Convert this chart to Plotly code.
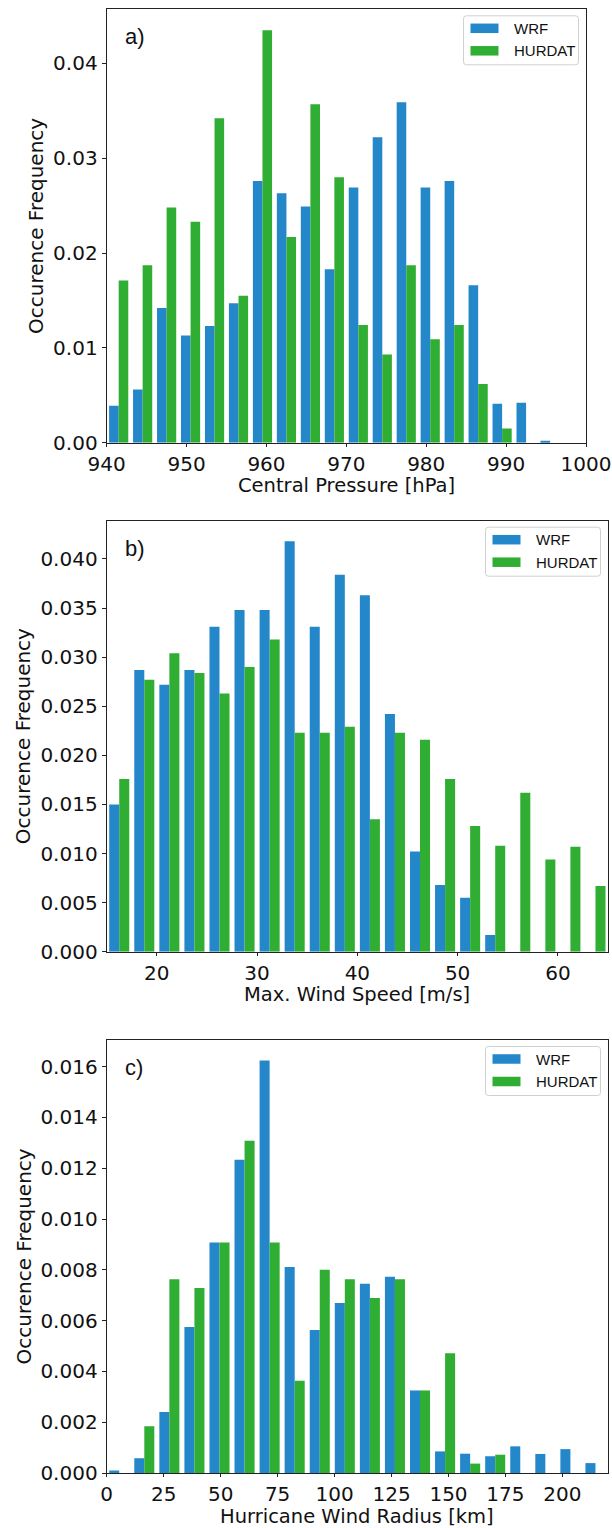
import plotly.graph_objects as go

W, H = 612, 1528

# ---------------- data ----------------
pressure_bin_starts = [940, 943, 946, 949, 952, 955, 958, 961, 964, 967,
                       970, 973, 976, 979, 982, 985, 988, 991, 994, 997]
pressure_wrf = [0.0039, 0.0056, 0.0142, 0.0113, 0.0123, 0.0147, 0.0276, 0.0263, 0.0249, 0.0183,
                0.0269, 0.0322, 0.0359, 0.0269, 0.0276, 0.0166, 0.0041, 0.0042, 0.0002, 0.0]
pressure_hurdat = [0.0171, 0.0187, 0.0248, 0.0233, 0.0342, 0.0155, 0.0435, 0.0217, 0.0357, 0.0280,
                   0.0124, 0.0093, 0.0187, 0.0109, 0.0124, 0.0062, 0.0015, 0.0, 0.0, 0.0]

wind_bin_starts = [15, 17.5, 20, 22.5, 25, 27.5, 30, 32.5, 35, 37.5,
                   40, 42.5, 45, 47.5, 50, 52.5, 55, 57.5, 60, 62.5]
wind_wrf = [0.0150, 0.0287, 0.0272, 0.0287, 0.0331, 0.0348, 0.0348, 0.0418, 0.0331, 0.0384,
            0.0363, 0.0242, 0.0102, 0.0068, 0.0055, 0.0017, 0.0, 0.0, 0.0, 0.0]
wind_hurdat = [0.0176, 0.0277, 0.0304, 0.0284, 0.0263, 0.0290, 0.0318, 0.0223, 0.0223, 0.0229,
               0.0135, 0.0223, 0.0216, 0.0176, 0.0128, 0.0108, 0.0162, 0.0094, 0.0107, 0.0067]

radius_bin_starts = [0, 11, 22, 33, 44, 55, 66, 77, 88, 99,
                     110, 121, 132, 143, 154, 165, 176, 187, 198, 209]
radius_wrf = [0.00010, 0.00058, 0.00240, 0.00575, 0.00908, 0.01233, 0.01624, 0.00811, 0.00563, 0.00669,
              0.00745, 0.00773, 0.00325, 0.00085, 0.00076, 0.00066, 0.00105, 0.00075, 0.00094, 0.00039]
radius_hurdat = [0.0, 0.00184, 0.00763, 0.00728, 0.00908, 0.01308, 0.00908, 0.00363, 0.00800, 0.00763,
                 0.00689, 0.00763, 0.00325, 0.00472, 0.00037, 0.00072, 0.0, 0.0, 0.0, 0.0]

series_names = ["WRF", "HURDAT"]
colors = ["#2387c9", "#2fae33"]

panels = [
    dict(label="a)", xtitle="Central Pressure [hPa]", starts=pressure_bin_starts,
         series=[pressure_wrf, pressure_hurdat], xrange=[940, 1000], yrange=[0, 0.0457],
         xticks=[940, 950, 960, 970, 980, 990, 1000], ydtick=0.01, yfmt=".2f",
         px=(106.7, 586.0, 9.3, 442.7), ytitle_x=36),
    dict(label="b)", xtitle="Max. Wind Speed [m/s]", starts=wind_bin_starts,
         series=[wind_wrf, wind_hurdat], xrange=[15, 65], yrange=[0, 0.0439],
         xticks=[20, 30, 40, 50, 60], ydtick=0.005, yfmt=".3f",
         px=(106.7, 608.0, 520.7, 951.7), ytitle_x=23),
    dict(label="c)", xtitle="Hurricane Wind Radius [km]", starts=radius_bin_starts,
         series=[radius_wrf, radius_hurdat], xrange=[0, 220], yrange=[0, 0.01705],
         xticks=[0, 25, 50, 75, 100, 125, 150, 175, 200], ydtick=0.002, yfmt=".3f",
         px=(106.7, 608.0, 1040.0, 1473.0), ytitle_x=23),
]

def fx(p):
    return p / W

def fy(p):
    return 1 - p / H

TXT = "#111111"
TICKFONT = dict(family="DejaVu Sans", size=20, color=TXT)

fig = go.Figure()
shapes = []
annotations = []

for i, pnl in enumerate(panels, start=1):
    sfx = "" if i == 1 else str(i)
    xa, ya = "x" + sfx, "y" + sfx
    starts = pnl["starts"]
    width = starts[1] - starts[0]
    centers = [s + width / 2 for s in starts]
    for name, vals, col in zip(series_names, pnl["series"], colors):
        fig.add_trace(go.Bar(x=centers, y=vals, name=name, marker=dict(color=col, line=dict(width=0)),
                             xaxis=xa, yaxis=ya, showlegend=False))
    l, r, t, b = pnl["px"]
    axcommon = dict(showline=True, linecolor="#222222", linewidth=1.1, mirror=True,
                    ticks="outside", tickwidth=1, tickcolor="#222222",
                    showgrid=False, zeroline=False, tickfont=TICKFONT, automargin=False)
    fig.update_layout(**{
        "xaxis" + sfx: dict(domain=[fx(l), fx(r)], range=pnl["xrange"], anchor=ya, ticklen=3,
                            tickmode="array", tickvals=pnl["xticks"], **axcommon),
        "yaxis" + sfx: dict(domain=[fy(b), fy(t)], range=pnl["yrange"], anchor=xa, ticklen=4,
                            tick0=0, dtick=pnl["ydtick"], tickformat=pnl["yfmt"], **axcommon),
    })
    annotations.append(dict(text=pnl["xtitle"], x=fx((l + r) / 2), y=fy(b + 43), xref="paper", yref="paper",
                            showarrow=False, xanchor="center", yanchor="middle", borderpad=0,
                            font=dict(family="DejaVu Sans", size=19.5, color=TXT)))
    annotations.append(dict(text="Occurence Frequency", x=fx(pnl["ytitle_x"]), y=fy((t + b) / 2),
                            xref="paper", yref="paper", showarrow=False, textangle=-90,
                            xanchor="center", yanchor="middle",
                            font=dict(family="DejaVu Sans", size=20, color=TXT)))
    annotations.append(dict(text=pnl["label"], x=fx(l + 16), y=fy(t + 27.5), xref="paper", yref="paper",
                            showarrow=False, xanchor="left", yanchor="middle",
                            font=dict(family="Liberation Sans", size=22, color=TXT)))
    bw, bh = 115, 49
    bx1 = r - 7.5
    bx0 = bx1 - bw
    by0 = t + 6.5
    by1 = by0 + bh
    rad = 3
    path = (f"M {fx(bx0+rad)},{fy(by0)} L {fx(bx1-rad)},{fy(by0)} "
            f"Q {fx(bx1)},{fy(by0)} {fx(bx1)},{fy(by0+rad)} L {fx(bx1)},{fy(by1-rad)} "
            f"Q {fx(bx1)},{fy(by1)} {fx(bx1-rad)},{fy(by1)} L {fx(bx0+rad)},{fy(by1)} "
            f"Q {fx(bx0)},{fy(by1)} {fx(bx0)},{fy(by1-rad)} L {fx(bx0)},{fy(by0+rad)} "
            f"Q {fx(bx0)},{fy(by0)} {fx(bx0+rad)},{fy(by0)} Z")
    shapes.append(dict(type="path", path=path, xref="paper", yref="paper",
                       line=dict(color="#d0d0d0", width=1), fillcolor="rgba(255,255,255,0.85)"))
    for k, (name, col) in enumerate(zip(series_names, colors)):
        cy = by0 + 12.5 + k * 22.5
        shapes.append(dict(type="rect", xref="paper", yref="paper",
                           x0=fx(bx0 + 7), x1=fx(bx0 + 35), y0=fy(cy - 4.75), y1=fy(cy + 4.75),
                           line=dict(width=0), fillcolor=col))
        annotations.append(dict(text=name, x=fx(bx0 + 48), y=fy(cy), xref="paper", yref="paper",
                                showarrow=False, xanchor="left", yanchor="middle",
                                font=dict(family="Liberation Sans", size=15, color=TXT)))

fig.update_layout(width=W, height=H, margin=dict(l=0, r=0, t=0, b=0),
                  paper_bgcolor="white", plot_bgcolor="white",
                  barmode="group", bargap=0.2, bargroupgap=0.0,
                  shapes=shapes, annotations=annotations, showlegend=False)

fig.write_html("out.html", config={"displayModeBar": False},
               post_script="document.body.style.margin='0';document.body.style.overflow='hidden';")
